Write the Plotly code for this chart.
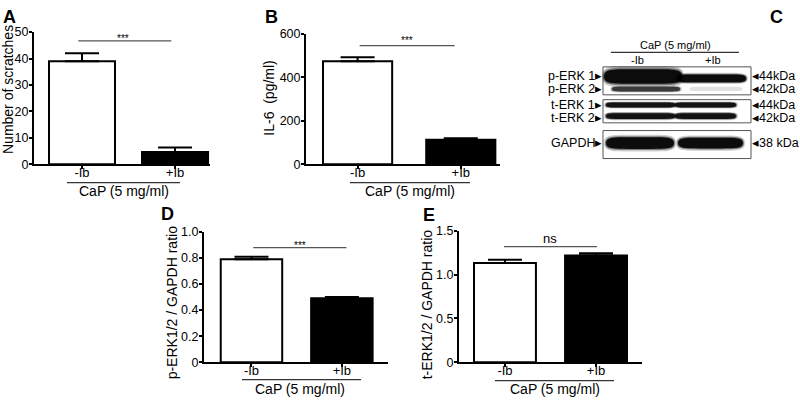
import plotly.graph_objects as go

# ---------------- data ----------------
groups = ['-Ib', '+Ib']
scratches = [39.0, 4.7]
scratches_err = [3.0, 1.7]
il6 = [475, 113]
il6_err = [18, 7]
perk_ratio = [0.79, 0.49]
perk_err = [0.02, 0.01]
terk_ratio = [1.135, 1.22]
terk_err = [0.035, 0.025]

A_ticks = [0, 10, 20, 30, 40, 50]
B_ticks = [0, 200, 400, 600]
D_ticks = [0, 0.2, 0.4, 0.6, 0.8, 1.0]
D_ticktext = ['0', '0.2', '0.4', '0.6', '0.8', '1.0']
E_ticks = [0, 0.5, 1.0, 1.5]
E_ticktext = ['0', '0.5', '1.0', '1.5']

FONT = 'Arial, Liberation Sans, sans-serif'
W, H = 800, 403

fig = go.Figure()

panels = [
    ('', scratches, scratches_err, (34, 210), (26, 163), [-0.516, 1.376], [0, 50], A_ticks, [str(t) for t in A_ticks], 0.71),
    ('2', il6, il6_err, (306, 500), (28, 163), [-0.5, 1.38], [0, 600], B_ticks, [str(t) for t in B_ticks], 0.67),
    ('3', perk_ratio, perk_err, (204, 388), (233, 368), [-0.525, 1.51], [0, 1.0], D_ticks, D_ticktext, 0.68),
    ('4', terk_ratio, terk_err, (459, 642), (232, 368), [-0.505, 1.505], [0, 1.5], E_ticks, E_ticktext, 0.68),
]

for key, vals, errs, xd, yd, xr, yr, tv, tt, bw in panels:
    fig.add_trace(go.Bar(
        x=[0, 1], y=vals, width=bw,
        marker=dict(color=['white', 'black'], line=dict(color='black', width=2)),
        error_y=dict(type='data', symmetric=False, array=errs, arrayminus=[0, 0],
                     color='black', thickness=2, width=17),
        xaxis='x' + key, yaxis='y' + key, showlegend=False, hoverinfo='skip'))
    fig.layout['xaxis' + key] = dict(
        domain=[xd[0] / W, xd[1] / W], range=xr, anchor='y' + key,
        tickmode='array', tickvals=[0, 1], ticktext=groups,
        showline=True, linecolor='black', linewidth=2,
        ticks='outside', ticklen=3, tickwidth=2, tickcolor='black',
        ticklabelstandoff=-8,
        showgrid=False, zeroline=False,
        tickfont=dict(family=FONT, size=13, color='black'), fixedrange=True)
    fig.layout['yaxis' + key] = dict(
        domain=[1 - yd[1] / H, 1 - yd[0] / H], range=yr, anchor='x' + key,
        tickmode='array', tickvals=tv, ticktext=tt,
        showline=True, linecolor='black', linewidth=2,
        ticks='outside', ticklen=3, tickwidth=2, tickcolor='black',
        ticklabelstandoff=-2,
        showgrid=False, zeroline=False,
        tickfont=dict(family=FONT, size=12.5, color='black'), fixedrange=True)

sig = [
    ('x', 'y', -0.04, 0.96, 46.7),
    ('x2', 'y2', 0.02, 0.94, 547),
    ('x3', 'y3', 0.02, 1.05, 0.88),
    ('x4', 'y4', -0.01, 1.01, 1.32),
]
shapes = []
for xr_, yr_, x0, x1, y in sig:
    shapes.append(dict(type='line', xref=xr_, yref=yr_, x0=x0, x1=x1, y0=y, y1=y,
                       line=dict(color='#555555', width=1.2)))

# overlay pixel axis for annotations and the blot
fig.add_trace(go.Scatter(x=[], y=[], xaxis='x5', yaxis='y5', showlegend=False))
fig.layout['xaxis5'] = dict(domain=[0, 1], range=[0, W], visible=False, fixedrange=True, anchor='y5')
fig.layout['yaxis5'] = dict(domain=[0, 1], range=[H, 0], visible=False, fixedrange=True, anchor='x5')

def pline(x0, x1, y, color='black', w=1.2):
    shapes.append(dict(type='line', xref='x5', yref='y5', x0=x0, x1=x1, y0=y, y1=y,
                       line=dict(color=color, width=w)))

ann = []
def txt(x, y, s, size=13, xa='center', ya='middle', angle=0, bold=False):
    if bold:
        s = '<b>' + s + '</b>'
    ann.append(dict(x=x, y=y, xref='x5', yref='y5', text=s, showarrow=False,
                    xanchor=xa, yanchor=ya, textangle=angle, borderpad=0,
                    font=dict(family=FONT, size=size, color='black')))

for s, x, y in [('A', 9, 10), ('B', 271, 10), ('C', 776, 10), ('D', 167, 214), ('E', 429, 215)]:
    txt(x, y, s, size=18, bold=True)

txt(8, 86, 'Number of scratches', size=14, angle=-90)
txt(269, 95, 'IL-6  (pg/ml)', size=14, angle=-90)
txt(172, 307, 'p-ERK1/2 / GAPDH ratio', size=14, angle=-90)
txt(427, 308, 't-ERK1/2 / GAPDH ratio', size=14, angle=-90)

txt(123, 33, '***', size=10)
txt(407, 35, '***', size=10)
txt(300, 247, '***', size=10)
txt(550, 240, 'ns', size=13)

for x0, x1, y, xc, ty in [(67, 180, 182, 124, 191), (350, 470, 182, 410, 191),
                          (242, 361, 386, 300, 396), (495, 614, 387, 555, 396)]:
    pline(x0, x1, y, color='#333333', w=1.2)
    txt(xc, ty, 'CaP (5 mg/ml)', size=14)

# ---------------- panel C blot ----------------
txt(675, 39, 'CaP (5 mg/ml)', size=11)
pline(611, 739, 47, color='#333333', w=1.2)
txt(637, 55, '-Ib', size=11)
txt(713, 55, '+Ib', size=11)

boxes = [(603, 751, 62, 91), (603, 751, 96, 120), (603, 751, 128, 157)]
for x0, x1, y0, y1 in boxes:
    shapes.append(dict(type='rect', xref='x5', yref='y5', x0=x0, x1=x1, y0=y0, y1=y1,
                       line=dict(color='#555555', width=1), fillcolor='white', layer='above'))

def capsule(x0, x1, yc, h):
    r = min(h * 2.0, (x1 - x0) / 3)
    y0 = yc - h / 2
    y1 = yc + h / 2
    return (f'M{x0},{yc} C{x0},{y0} {x0 + r * 0.3},{y0} {x0 + r},{y0} L{x1 - r},{y0} '
            f'C{x1 - r * 0.3},{y0} {x1},{y0} {x1},{yc} '
            f'C{x1},{y1} {x1 - r * 0.3},{y1} {x1 - r},{y1} L{x0 + r},{y1} '
            f'C{x0 + r * 0.3},{y1} {x0},{y1} {x0},{yc} Z')

bands = [
    (604, 682, 72, 15, 1.0),
    (612, 680, 85, 5, 0.7),
    (677, 746, 74, 8, 1.0),
    (690, 742, 85, 4, 0.08),
    (606, 675, 101.5, 5, 0.95),
    (675, 736, 101.5, 5, 0.95),
    (606, 675, 113, 6, 0.95),
    (675, 736, 113, 6, 0.95),
    (606, 674, 141, 12, 1.0),
    (678, 743, 141, 11, 1.0),
]
for x0, x1, yc, h, s in bands:
    for grow, pad, op in [(1.45, 2.0, 0.2), (1.2, 1.0, 0.4), (1.0, 0.0, 0.9)]:
        shapes.append(dict(type='path', xref='x5', yref='y5',
                           path=capsule(x0 - pad, x1 + pad, yc, h * grow),
                           fillcolor='black', opacity=op * s, line=dict(width=0), layer='above'))

left_labels = [('p-ERK 1▸', 71.5), ('p-ERK 2▸', 84.5), ('t-ERK 1▸', 101.5), ('t-ERK 2▸', 114.5), ('GAPDH▸', 141)]
for s, y in left_labels:
    txt(603, y, s, size=12.5, xa='right')
right_labels = [('◂44kDa', 71.5), ('◂42kDa', 84.5), ('◂44kDa', 101.5), ('◂42kDa', 114.5), ('◂38 kDa', 141)]
for s, y in right_labels:
    txt(751, y, s, size=12.5, xa='left')

fig.update_layout(
    width=W, height=H, margin=dict(l=0, r=0, t=0, b=0),
    paper_bgcolor='white', plot_bgcolor='rgba(0,0,0,0)',
    shapes=shapes, annotations=ann, bargap=0, showlegend=False,
    font=dict(family=FONT, color='black'))

fig.write_html('out.html', config={'displayModeBar': False, 'staticPlot': True},
               post_script="document.body.style.margin='0';document.body.style.overflow='hidden';")
